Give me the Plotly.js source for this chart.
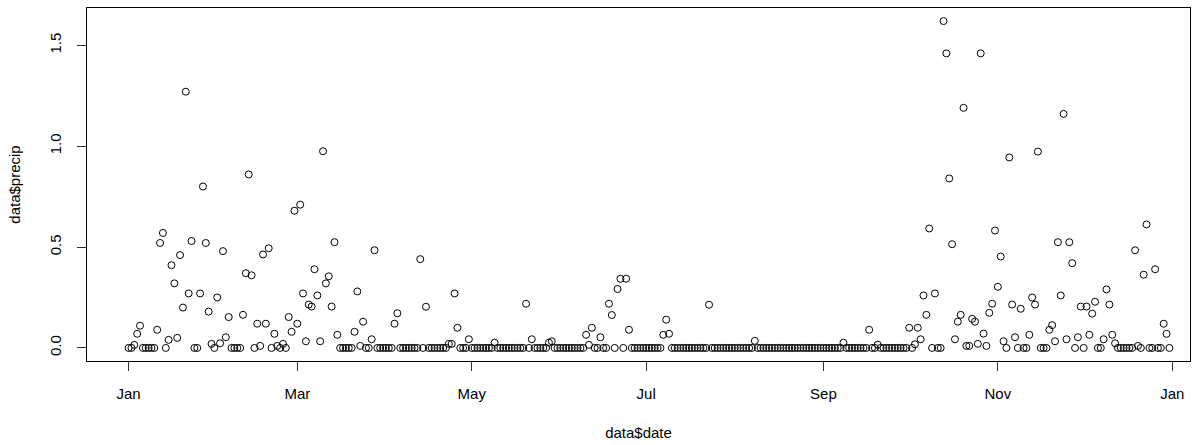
<!DOCTYPE html>
<html>
<head>
<meta charset="utf-8">
<script src="https://cdn.plot.ly/plotly-3.0.1.min.js"></script>
<style>
  html, body { margin: 0; padding: 0; background: #ffffff; }
  #chart { width: 1204px; height: 445px; }
</style>
</head>
<body>
<div id="chart"></div>
<script>
// Daily precipitation, one value per day starting 2019-01-01
const startDate = "2019-01-01";
const precip = [
  0, 0, 0.015, 0.07, 0.11, 0, 0, 0, 0, 0,
  0.09, 0.52, 0.57, 0, 0.04, 0.41, 0.32, 0.05, 0.46, 0.2,
  1.27, 0.27, 0.53, 0, 0, 0.27, 0.8, 0.52, 0.18, 0.02,
  0, 0.25, 0.023, 0.48, 0.053, 0.153, 0, 0, 0, 0,
  0.164, 0.37, 0.86, 0.36, 0, 0.12, 0.01, 0.463, 0.12, 0.494,
  0, 0.07, 0.01, 0, 0.02, 0, 0.153, 0.08, 0.68, 0.12,
  0.71, 0.27, 0.033, 0.215, 0.205, 0.39, 0.26, 0.033, 0.975, 0.32,
  0.355, 0.205, 0.524, 0.065, 0, 0, 0, 0, 0, 0.08,
  0.28, 0.01, 0.13, 0, 0, 0.043, 0.484, 0, 0, 0,
  0, 0, 0, 0.12, 0.172, 0, 0, 0, 0, 0,
  0, 0, 0.44, 0, 0.204, 0, 0, 0, 0, 0,
  0, 0, 0.02, 0.02, 0.27, 0.1, 0, 0, 0, 0.043,
  0, 0, 0, 0, 0, 0, 0, 0, 0.026, 0,
  0, 0, 0, 0, 0, 0, 0, 0, 0, 0.219,
  0, 0.043, 0, 0, 0, 0, 0, 0.026, 0.033, 0,
  0, 0, 0, 0, 0, 0, 0, 0, 0, 0,
  0.065, 0.015, 0.1, 0, 0, 0.053, 0, 0, 0.219, 0.163,
  0, 0.292, 0.343, 0, 0.343, 0.09, 0, 0, 0, 0,
  0, 0, 0, 0, 0, 0, 0, 0.065, 0.14, 0.07,
  0, 0, 0, 0, 0, 0, 0, 0, 0, 0,
  0, 0, 0, 0.214, 0, 0, 0, 0, 0, 0,
  0, 0, 0, 0, 0, 0, 0, 0, 0, 0.035,
  0, 0, 0, 0, 0, 0, 0, 0, 0, 0,
  0, 0, 0, 0, 0, 0, 0, 0, 0, 0,
  0, 0, 0, 0, 0, 0, 0, 0, 0, 0,
  0.026, 0, 0, 0, 0, 0, 0, 0, 0, 0.09,
  0, 0, 0.016, 0, 0, 0, 0, 0, 0, 0,
  0, 0, 0, 0.1, 0, 0.018, 0.1, 0.043, 0.26, 0.164,
  0.592, 0, 0.27, 0, 0, 1.62, 1.46, 0.84, 0.514, 0.043,
  0.13, 0.164, 1.19, 0.01, 0.01, 0.144, 0.13, 0.02, 1.46, 0.071,
  0.01, 0.174, 0.219, 0.582, 0.303, 0.453, 0.033, 0, 0.944, 0.215,
  0.053, 0, 0.194, 0, 0, 0.065, 0.25, 0.215, 0.973, 0,
  0, 0, 0.09, 0.113, 0.033, 0.524, 0.26, 1.16, 0.043, 0.524,
  0.42, 0, 0.053, 0.205, 0, 0.205, 0.065, 0.17, 0.229, 0,
  0, 0.043, 0.29, 0.215, 0.065, 0.023, 0, 0, 0, 0,
  0, 0, 0.484, 0.01, 0, 0.363, 0.612, 0, 0, 0.39,
  0, 0, 0.12, 0.07, 0
];
const yTickVals = [0, 0.5, 1.0, 1.5];
const yTickText = ["0.0", "0.5", "1.0", "1.5"];
const xTitle = "data$date";
const yTitle = "data$precip";

const DAY = 86400000;
const t0 = Date.parse(startDate + "T00:00:00Z");
function iso(ms) { return new Date(ms).toISOString().replace("T", " ").replace("Z", ""); }
const dates = precip.map((_, i) => iso(t0 + i * DAY).slice(0, 10));

const trace = {
  type: "scatter",
  mode: "markers",
  x: dates,
  y: precip,
  marker: { symbol: "circle-open", size: 7, color: "#000000", line: { width: 1, color: "#000000" } },
  hoverinfo: "skip"
};

const font = { family: "Liberation Sans, Arial, sans-serif", size: 15, color: "#000000" };

const layout = {
  width: 1204,
  height: 445,
  paper_bgcolor: "#ffffff",
  plot_bgcolor: "#ffffff",
  showlegend: false,
  margin: { l: 87, r: 14, t: 8, b: 84, pad: 0 },
  font: font,
  xaxis: {
    type: "date",
    range: [iso(t0 - 14.55 * DAY), iso(t0 + 371.2 * DAY)],
    tick0: startDate,
    dtick: "M2",
    tickformat: "%b",
    ticks: "outside",
    ticklen: 9,
    tickwidth: 1,
    tickcolor: "#333333",
    ticklabelstandoff: 10,
    showline: true,
    mirror: true,
    linecolor: "#000000",
    linewidth: 1,
    showgrid: false,
    zeroline: false,
    tickfont: font,
    title: { text: xTitle, font: font, standoff: 26 }
  },
  yaxis: {
    range: [-0.0648, 1.6848],
    tickmode: "array",
    tickvals: yTickVals,
    ticktext: yTickText,
    tickangle: -90,
    ticks: "outside",
    ticklen: 9,
    tickwidth: 1,
    tickcolor: "#333333",
    ticklabelstandoff: 10,
    showline: true,
    mirror: true,
    linecolor: "#000000",
    linewidth: 1,
    showgrid: false,
    zeroline: false,
    tickfont: font,
    title: { text: yTitle, font: font, standoff: 22 }
  }
};

Plotly.newPlot("chart", [trace], layout, { staticPlot: true, displayModeBar: false });
</script>
</body>
</html>
